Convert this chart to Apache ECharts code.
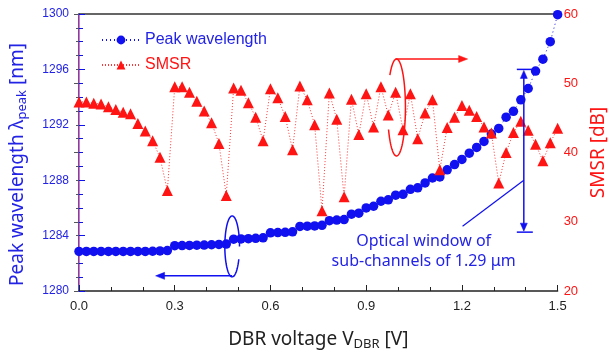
<!DOCTYPE html>
<html>
<head>
<meta charset="utf-8">
<script src="https://cdn.jsdelivr.net/npm/echarts@6/dist/echarts.min.js"></script>
<style>
  html, body { margin: 0; padding: 0; background: #ffffff; }
  #chart { width: 616px; height: 356px; }
</style>
</head>
<body>
<div id="chart"></div>
<script>
// DBR tuning sweep: applied voltage [V]
const voltage = [
  0.0000, 0.0231, 0.0462, 0.0692, 0.0923, 0.1154, 0.1385, 0.1615, 0.1846, 0.2077,
  0.2308, 0.2538, 0.2769, 0.3000, 0.3231, 0.3462, 0.3692, 0.3923, 0.4154, 0.4385,
  0.4615, 0.4846, 0.5077, 0.5308, 0.5538, 0.5769, 0.6000, 0.6231, 0.6462, 0.6692,
  0.6923, 0.7154, 0.7385, 0.7615, 0.7846, 0.8077, 0.8308, 0.8538, 0.8769, 0.9000,
  0.9231, 0.9462, 0.9692, 0.9923, 1.0154, 1.0385, 1.0615, 1.0846, 1.1077, 1.1308,
  1.1538, 1.1769, 1.2000, 1.2231, 1.2462, 1.2692, 1.2923, 1.3154, 1.3385, 1.3615,
  1.3846, 1.4077, 1.4308, 1.4538, 1.4769, 1.5000
];

// Lasing peak wavelength [nm]
const peakWavelength = [
  1282.86, 1282.86, 1282.86, 1282.86, 1282.86, 1282.86, 1282.86, 1282.86, 1282.86, 1282.86,
  1282.87, 1282.89, 1282.92, 1283.27, 1283.28, 1283.29, 1283.31, 1283.32, 1283.34, 1283.36,
  1283.39, 1283.74, 1283.76, 1283.78, 1283.80, 1283.84, 1284.20, 1284.22, 1284.24, 1284.27,
  1284.66, 1284.68, 1284.70, 1284.74, 1285.08, 1285.12, 1285.16, 1285.55, 1285.62, 1286.00,
  1286.12, 1286.48, 1286.58, 1286.92, 1286.98, 1287.34, 1287.45, 1287.80, 1288.16, 1288.24,
  1288.75, 1289.13, 1289.50, 1289.95, 1290.37, 1290.80, 1291.33, 1291.74, 1292.55, 1292.97,
  1293.80, 1294.62, 1295.88, 1296.74, 1298.00, 1299.95
];

// Side-mode suppression ratio [dB]
const smsr = [
  47.3, 47.3, 47.1, 47.0, 46.6, 46.2, 45.8, 45.6, 44.2, 43.1,
  41.7, 39.3, 34.5, 49.5, 49.5, 48.7, 47.4, 46.0, 44.3, 41.3,
  33.8, 49.3, 49.0, 47.2, 45.1, 41.7, 49.2, 47.9, 45.2, 40.4,
  49.6, 47.6, 44.0, 31.6, 48.6, 44.8, 33.6, 47.7, 42.6, 48.5,
  43.7, 49.5, 45.4, 48.7, 43.3, 48.5, 42.0, 45.7, 47.6, 37.5,
  43.6, 45.1, 46.8, 46.1, 45.2, 43.7, 42.8, 35.6, 40.0, 42.9,
  44.5, 43.2, 41.2, 38.8, 41.4, 43.5
];

// Axis ranges and tick steps
const voltageAxis = [0, 1.5, 0.3];
const wavelengthAxis = [1280, 1300, 4];
const smsrAxis = [20, 60, 10];

const BLUE = '#1010f0';
const BLUE_TEXT = '#2323e6';
const RED = '#ff1414';
const RED_LINE = '#ff7070';
const TICK_FONT = 'Liberation Sans, Arial, sans-serif';
const NAME_FONT = 'Noto Sans, Open Sans, sans-serif';

const chart = echarts.init(document.getElementById('chart'));

const option = {
  animation: false,
  backgroundColor: '#ffffff',
  grid: { left: 79, right: 53, top: 14, bottom: 64, containLabel: false },
  legend: {
    orient: 'vertical',
    left: 96,
    top: 27,
    itemWidth: 38,
    itemHeight: 11,
    itemGap: 9,
    data: [
      { name: 'Peak wavelength', textStyle: { color: BLUE_TEXT } },
      { name: 'SMSR', textStyle: { color: RED } }
    ],
    textStyle: { fontSize: 16, fontFamily: TICK_FONT }
  },
  xAxis: [
    {
      type: 'value',
      min: voltageAxis[0], max: voltageAxis[1], interval: voltageAxis[2],
      name: 'DBR voltage V{sub|DBR} [V]',
      nameLocation: 'middle',
      nameGap: 37,
      nameTextStyle: {
        color: '#222', fontSize: 19, fontFamily: NAME_FONT,
        rich: { sub: { fontSize: 13, color: '#222', fontFamily: NAME_FONT, padding: [10, 0, 0, 0] } }
      },
      axisLine: { show: true, lineStyle: { color: '#222', width: 1.5 } },
      axisTick: { show: true, inside: true, length: 6, lineStyle: { color: '#222' } },
      minorTick: { show: true, splitNumber: 3, length: 4, lineStyle: { color: '#222' } },
      axisLabel: { color: '#222', fontSize: 13, fontFamily: TICK_FONT, margin: 9,
        formatter: v => v.toFixed(1) },
      splitLine: { show: false }
    },
    {
      type: 'value', position: 'top',
      min: voltageAxis[0], max: voltageAxis[1],
      axisLine: { show: true, lineStyle: { color: '#333', width: 1.5 } },
      axisTick: { show: false }, axisLabel: { show: false }, splitLine: { show: false }
    }
  ],
  yAxis: [
    {
      type: 'value', position: 'left',
      min: wavelengthAxis[0], max: wavelengthAxis[1], interval: wavelengthAxis[2],
      name: 'Peak wavelength \u03bb{sub|peak} [nm]',
      nameLocation: 'middle',
      nameRotate: 90,
      nameGap: 50,
      nameTextStyle: {
        color: BLUE_TEXT, fontSize: 19, fontFamily: NAME_FONT,
        padding: [0, 24, 0, 0],
        rich: { sub: { fontSize: 13, color: BLUE_TEXT, fontFamily: NAME_FONT, padding: [10, 0, 0, 0] } }
      },
      axisLine: { show: true, lineStyle: { color: BLUE, width: 1.5 } },
      axisTick: { show: true, inside: true, length: 6, lineStyle: { color: BLUE } },
      minorTick: { show: true, splitNumber: 4, length: 4, lineStyle: { color: BLUE } },
      axisLabel: { color: BLUE_TEXT, fontSize: 12, fontFamily: TICK_FONT, margin: 10,
        formatter: v => String(v) },
      splitLine: { show: false }
    },
    {
      type: 'value', position: 'right',
      min: smsrAxis[0], max: smsrAxis[1], interval: smsrAxis[2],
      name: 'SMSR [dB]',
      nameLocation: 'middle',
      nameRotate: 90,
      nameGap: 30,
      nameTextStyle: { color: RED, fontSize: 19, fontFamily: NAME_FONT },
      axisLine: { show: true, lineStyle: { color: RED_LINE, width: 1 } },
      axisTick: { show: true, inside: true, length: 5, lineStyle: { color: '#555' } },
      minorTick: { show: true, splitNumber: 5, length: 3, lineStyle: { color: '#555' } },
      axisLabel: { color: RED, fontSize: 13, fontFamily: TICK_FONT, margin: 6 },
      splitLine: { show: false }
    }
  ],
  series: [
    {
      name: 'Peak wavelength',
      type: 'line',
      xAxisIndex: 0, yAxisIndex: 0,
      data: voltage.map((v, i) => [v, peakWavelength[i]]),
      symbol: 'circle', symbolSize: 9.5,
      itemStyle: { color: BLUE },
      lineStyle: { color: BLUE, width: 1, type: [1, 3] },
      z: 2
    },
    {
      name: 'SMSR',
      type: 'line',
      xAxisIndex: 0, yAxisIndex: 1,
      data: voltage.map((v, i) => [v, smsr[i]]),
      symbol: 'triangle', symbolSize: 11,
      itemStyle: { color: RED },
      lineStyle: { color: RED, width: 1, type: [1, 2], opacity: 0.85 },
      z: 3
    }
  ]
};

chart.setOption(option);

// ---- Annotations, anchored to data coordinates ----
const px = (v, y, axis) => chart.convertToPixel({ xAxisIndex: 0, yAxisIndex: axis }, [v, y]);

function ellipseArc(cx, cy, rx, ry, a0, a1, n) {
  const pts = [];
  for (let k = 0; k <= n; k++) {
    const t = (a0 + (a1 - a0) * k / n) * Math.PI / 180;
    pts.push([cx + rx * Math.cos(t), cy + ry * Math.sin(t)]);
  }
  return pts;
}

function arrowHead(tip, dx, dy, len, hw) {
  const bx = tip[0] - dx * len, by = tip[1] - dy * len;
  return [[tip[0], tip[1]], [bx - dy * hw, by + dx * hw], [bx + dy * hw, by - dx * hw]];
}

const line = (points, color) => ({
  type: 'polyline', shape: { points }, silent: true, z: 10,
  style: { stroke: color, lineWidth: 1.5, fill: null }
});
const head = (points, color) => ({
  type: 'polygon', shape: { points }, silent: true, z: 10,
  style: { fill: color, stroke: color, lineWidth: 0.5 }
});

const graphics = [];

// SMSR loop with arrow to the right axis
{
  const c = px(0.995, 46.5, 1);
  const top = px(0.995, 53.5, 1);
  const side = px(1.023, 46.5, 1);
  const rx = side[0] - c[0], ry = c[1] - top[1];
  graphics.push(line(ellipseArc(c[0], c[1], rx, ry, -138, 153, 80), RED));
  const tip = [px(1.218, 53.5, 1)[0], c[1] - ry];
  graphics.push(line([[c[0] - 1, c[1] - ry], [tip[0] - 6, tip[1]]], RED));
  graphics.push(head(arrowHead(tip, 1, 0, 9, 3.5), RED));
}

// Wavelength loop with arrow to the left axis
{
  const c = px(0.48, 1283.22, 0);
  const top = px(0.48, 1285.42, 0);
  const side = px(0.503, 1283.22, 0);
  const rx = side[0] - c[0], ry = c[1] - top[1];
  graphics.push(line(ellipseArc(c[0], c[1], rx, ry, 25, 360, 80), BLUE));
  const y = c[1] + ry - 1;
  const tip = [px(0.24, 1283.22, 0)[0], y];
  graphics.push(line([[c[0], y], [tip[0] + 6, y]], BLUE));
  graphics.push(head(arrowHead(tip, -1, 0, 9, 3.5), BLUE));
}

// Optical window double arrow
{
  const t = px(1.394, 1296.0, 0);
  const b = px(1.394, 1284.25, 0);
  graphics.push(line([[t[0], t[1] + 5], [b[0], b[1] - 5]], BLUE));
  graphics.push(head(arrowHead([t[0], t[1] + 1], 0, -1, 8, 3.5), BLUE));
  graphics.push(head(arrowHead([b[0], b[1] - 1], 0, 1, 8, 3.5), BLUE));
  graphics.push(line([[t[0] - 7, t[1]], [t[0] + 8, t[1]]], BLUE));
  graphics.push(line([[b[0] - 7, b[1]], [b[0] + 9, b[1]]], BLUE));

  const p0 = px(1.394, 1287.99, 0);
  const p1 = px(1.202, 1284.68, 0);
  graphics.push({
    type: 'line', shape: { x1: p0[0], y1: p0[1], x2: p1[0], y2: p1[1] }, silent: true, z: 10,
    style: { stroke: BLUE, lineWidth: 1.2 }
  });

  const tp = px(1.08, 1282.84, 0);
  graphics.push({
    type: 'text', x: tp[0], y: tp[1], silent: true, z: 10,
    style: {
      text: 'Optical window of\nsub-channels of 1.29 \u03bcm',
      fill: BLUE_TEXT, fontSize: 16, fontFamily: NAME_FONT,
      align: 'center', verticalAlign: 'middle', lineHeight: 20
    }
  });
}

chart.setOption({ graphic: graphics });
</script>
</body>
</html>
